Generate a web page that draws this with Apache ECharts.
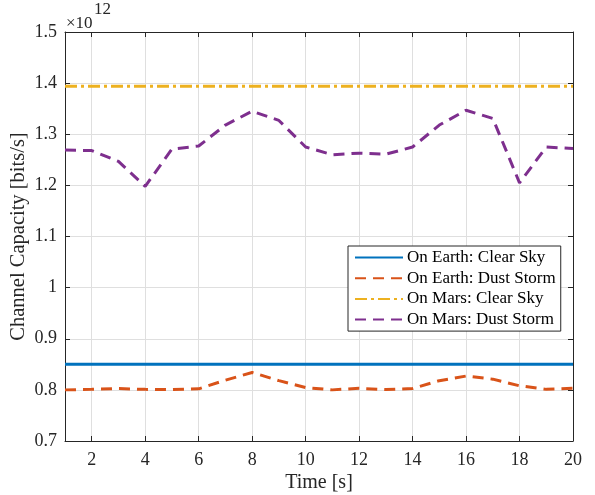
<!DOCTYPE html>
<html><head><meta charset="utf-8">
<script src="https://cdn.jsdelivr.net/npm/echarts@6/dist/echarts.min.js"></script>
<style>html,body{margin:0;padding:0;background:#fff}#c{width:595px;height:495px}</style>
</head><body><div id="c"></div>
<script>
const time = [1,2,3,4,5,6,7,8,9,10,11,12,13,14,15,16,17,18,19,20];
const earthClear = [0.85,0.85,0.85,0.85,0.85,0.85,0.85,0.85,0.85,0.85,0.85,0.85,0.85,0.85,0.85,0.85,0.85,0.85,0.85,0.85];
const earthDust = [0.800,0.801,0.8025,0.801,0.8005,0.802,0.819,0.834,0.818,0.8045,0.800,0.803,0.8007,0.8026,0.818,0.827,0.821,0.808,0.801,0.803];
const marsClear = [1.394,1.394,1.394,1.394,1.394,1.394,1.394,1.394,1.394,1.394,1.394,1.394,1.394,1.394,1.394,1.394,1.394,1.394,1.394,1.394];
const marsDust = [1.269,1.268,1.247,1.198,1.271,1.277,1.318,1.345,1.327,1.275,1.260,1.263,1.261,1.275,1.318,1.347,1.331,1.205,1.275,1.272];
const xTicks = [2,4,6,8,10,12,14,16,18,20];
const names = ['On Earth: Clear Sky','On Earth: Dust Storm','On Mars: Clear Sky','On Mars: Dust Storm'];
const colors = ['#0072BD','#D95319','#EDB120','#7E2F8E'];

const font = "'Liberation Serif', 'Times New Roman', serif";
const zip = a => time.map((t,i)=>[t,a[i]]);
const mk = (i, data, type) => ({
  name: names[i], type:'line', data: zip(data), showSymbol:false, symbol:'none',
  lineStyle:{color:colors[i], width:3, type:type}, itemStyle:{color:colors[i]},
  animation:false, z: 3
});
const chart = echarts.init(document.getElementById('c'));
const axLine = {show:true, lineStyle:{color:'#262626', width:1}};
chart.setOption({
  animation:false,
  grid:{left:65, right:22, top:32, bottom:54, containLabel:false, outerBoundsMode:'none'},
  xAxis:[{
    type:'value', min:1, max:20, position:'bottom',
    name:'Time [s]', nameLocation:'middle', nameGap:32, nameMoveOverlap:false,
    nameTextStyle:{fontFamily:font, fontSize:20, color:'#262626'},
    axisLine:axLine,
    axisTick:{show:true, inside:true, length:5, customValues:xTicks, lineStyle:{color:'#262626'}},
    axisLabel:{customValues:xTicks, fontFamily:font, fontSize:18, color:'#262626', margin:10},
    splitLine:{show:true, lineStyle:{color:'#dfdfdf', width:1}}
  },{
    type:'value', min:1, max:20, position:'top',
    axisLine:axLine,
    axisTick:{show:true, inside:true, length:5, customValues:xTicks, lineStyle:{color:'#262626'}},
    axisLabel:{show:false, customValues:xTicks}, splitLine:{show:false}
  }],
  yAxis:[{
    type:'value', min:0.7, max:1.5, interval:0.1, position:'left',
    name:'Channel Capacity [bits/s]', nameLocation:'middle', nameGap:36, nameMoveOverlap:false,
    nameTextStyle:{fontFamily:font, fontSize:20.5, color:'#262626'},
    axisLine:axLine,
    axisTick:{show:true, inside:true, length:5, lineStyle:{color:'#262626'}},
    axisLabel:{fontFamily:font, fontSize:18, color:'#262626', margin:8, formatter:v=>String(+v.toFixed(1))},
    splitLine:{show:true, lineStyle:{color:'#dfdfdf', width:1}}
  },{
    type:'value', min:0.7, max:1.5, interval:0.1, position:'right',
    axisLine:axLine,
    axisTick:{show:true, inside:true, length:5, lineStyle:{color:'#262626'}},
    axisLabel:{show:false}, splitLine:{show:false}
  }],
  legend:{
    left:348, top:246, orient:'vertical', itemWidth:48, itemHeight:14, itemGap:3.7,
    backgroundColor:'#fff', borderColor:'#262626', borderWidth:1, borderRadius:0,
    padding:[3,5,3,6], itemStyle:{opacity:0},
    textStyle:{fontFamily:font, fontSize:17, lineHeight:17, color:'#000', padding:[0,0,0,-1]},
    data:names
  },
  graphic:[
    {type:'text', x:66, y:32, style:{text:'×10', fontFamily:font, fontSize:17, fill:'#262626', verticalAlign:'bottom'}},
    {type:'text', x:94, y:1, style:{text:'12', fontFamily:font, fontSize:17, fill:'#262626', verticalAlign:'top'}}
  ],
  series:[
    mk(0, earthClear, 'solid'),
    mk(1, earthDust, [11,7]),
    mk(2, marsClear, [12,4,3,4]),
    mk(3, marsDust, [11,7])
  ]
});
</script></body></html>
